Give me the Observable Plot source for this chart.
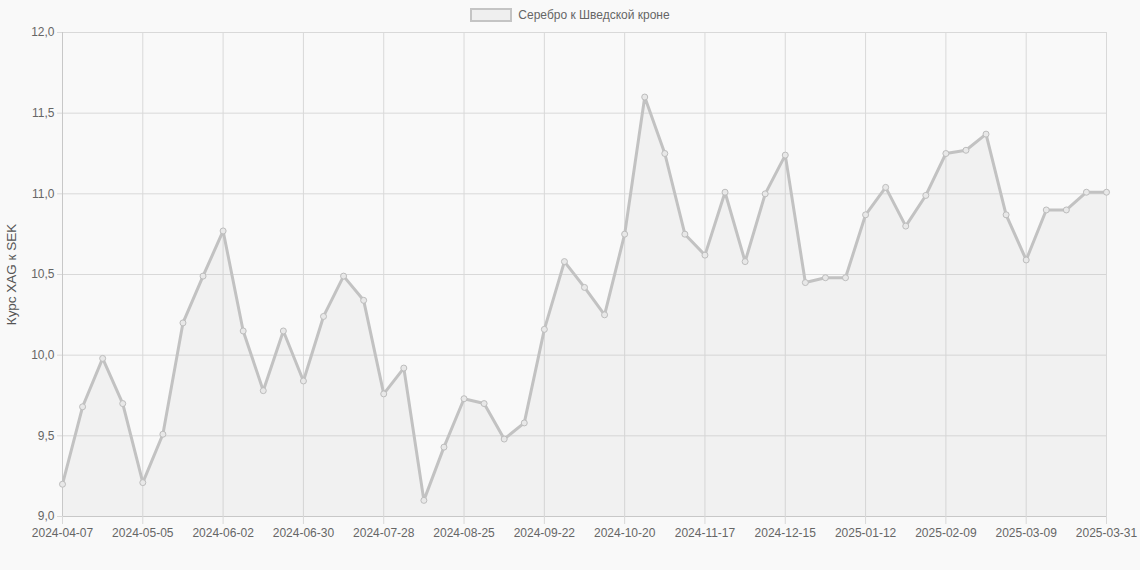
<!DOCTYPE html>
<html>
<head>
<meta charset="utf-8">
<script src="https://cdn.jsdelivr.net/npm/d3@7"></script>
<script src="https://cdn.jsdelivr.net/npm/@observablehq/plot@0.6"></script>
<style>
  html, body { margin: 0; padding: 0; background: #f9f9f9; }
  body { width: 1140px; height: 570px; overflow: hidden; font-family: "Liberation Sans", Arial, sans-serif; }
  #legend { height: 24px; display: flex; justify-content: center; align-items: center; font-size: 12px; color: #666; padding-left: 0px; box-sizing: border-box; padding-top: 5px; }
  #legend .box { width: 38px; height: 10px; background: #efefef; border: 2px solid #c4c4c4; margin-right: 6px; }
  svg { display: block; }
</style>
</head>
<body>
<div id="legend"><span class="box"></span><span>Серебро к Шведской кроне</span></div>
<div id="chart"></div>
<script>
const dates = [
  "2024-04-07","2024-04-14","2024-04-21","2024-04-28","2024-05-05","2024-05-12","2024-05-19","2024-05-26",
  "2024-06-02","2024-06-09","2024-06-16","2024-06-23","2024-06-30","2024-07-07","2024-07-14","2024-07-21",
  "2024-07-28","2024-08-04","2024-08-11","2024-08-18","2024-08-25","2024-09-01","2024-09-08","2024-09-15",
  "2024-09-22","2024-09-29","2024-10-06","2024-10-13","2024-10-20","2024-10-27","2024-11-03","2024-11-10",
  "2024-11-17","2024-11-24","2024-12-01","2024-12-08","2024-12-15","2024-12-22","2024-12-29","2025-01-05",
  "2025-01-12","2025-01-19","2025-01-26","2025-02-02","2025-02-09","2025-02-16","2025-02-23","2025-03-02",
  "2025-03-09","2025-03-16","2025-03-23","2025-03-30","2025-03-31"
];
const values = [
  9.20, 9.68, 9.98, 9.70, 9.21, 9.51, 10.20, 10.49,
  10.77, 10.15, 9.78, 10.15, 9.84, 10.24, 10.49, 10.34,
  9.76, 9.92, 9.10, 9.43, 9.73, 9.70, 9.48, 9.58,
  10.16, 10.58, 10.42, 10.25, 10.75, 11.60, 11.25, 10.75,
  10.62, 11.01, 10.58, 11.00, 11.24, 10.45, 10.48, 10.48,
  10.87, 11.04, 10.80, 10.99, 11.25, 11.27, 11.37, 10.87,
  10.59, 10.90, 10.90, 11.01, 11.01
];
const xTickIndex = [0, 4, 8, 12, 16, 20, 24, 28, 32, 36, 40, 44, 48, 52];
const yTicks = [9.0, 9.5, 10.0, 10.5, 11.0, 11.5, 12.0];
const seriesName = "Серебро к Шведской кроне";
const yTitle = "Курс XAG к SEK";

const data = values.map((v, i) => ({i, date: dates[i], v}));
const base = yTicks[0];

const chart = Plot.plot({
  width: 1140,
  height: 546,
  marginTop: 8,
  marginLeft: 62,
  marginRight: 34,
  marginBottom: 54,
  style: {background: "#f9f9f9", fontFamily: "'Liberation Sans', Arial, sans-serif", fontSize: "12px", color: "#666"},
  x: {type: "linear", domain: [0, dates.length - 1]},
  y: {domain: [yTicks[0], yTicks[yTicks.length - 1]]},
  marks: [
    Plot.gridX(xTickIndex, {stroke: "#d9d9d9", strokeOpacity: 1}),
    Plot.gridY(yTicks, {stroke: "#d9d9d9", strokeOpacity: 1}),
    Plot.areaY(data, {x: "i", y1: () => base, y2: "v", fill: "#c0c0c0", fillOpacity: 0.15}),
    Plot.ruleX([0], {stroke: "#c8c8c8"}),
    Plot.ruleY([base], {stroke: "#c8c8c8"}),
    Plot.axisX({ticks: xTickIndex, tickFormat: i => dates[i], tickSize: 8, tickPadding: 4, stroke: "#d9d9d9", fill: "#666", fontSize: 12, label: null}),
    Plot.axisY({ticks: yTicks, tickFormat: d => d.toFixed(1).replace(".", ","), tickSize: 5, tickPadding: 3, stroke: "#d9d9d9", fill: "#666", fontSize: 12, label: null}),
    Plot.axisY({ticks: [], tickSize: 0, label: yTitle, labelAnchor: "center", labelArrow: "none", labelOffset: 56, fontSize: 13.5, fill: "#555"}),
    Plot.line(data, {x: "i", y: "v", stroke: "#c2c2c2", strokeWidth: 3, strokeLinejoin: "round"}),
    Plot.dot(data, {x: "i", y: "v", r: 3, stroke: "#bdbdbd", strokeWidth: 1, fill: "#e8e8e8"})
  ]
});
document.getElementById("chart").appendChild(chart);
</script>
</body>
</html>
